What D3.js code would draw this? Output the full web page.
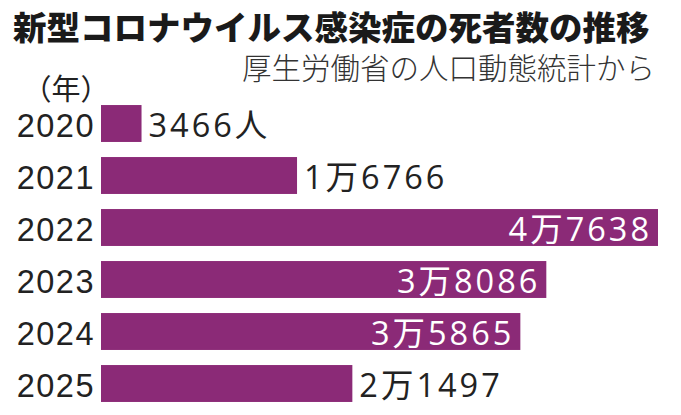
<!DOCTYPE html>
<html>
<head>
<meta charset="utf-8">
<script src="https://cdn.jsdelivr.net/npm/d3@7"></script>
<style>
  body { margin: 0; background: #fff; }
  svg { display: block; }
</style>
</head>
<body>
<div id="graph"></div>
<script>
// chart values
var years  = ["2020", "2021", "2022", "2023", "2024", "2025"];
var deaths = [3466, 16766, 47638, 38086, 35865, 21497];
var labels = ["3466人", "1万6766", "4万7638", "3万8086", "3万5865", "2万1497"];
var title    = "新型コロナウイルス感染症の死者数の推移";
var subtitle = "厚生労働省の人口動態統計から";
var unit     = "（年）";

var W = 681, H = 415;
var purple = "#8b2a77";

var svg = d3.select("#graph").append("svg")
    .attr("width", W)
    .attr("height", H);

var x = d3.scaleLinear()
    .domain([0, d3.max(deaths)])
    .range([101, 658]);

var y = d3.scaleBand()
    .domain(years)
    .range([97.5, 409.5])
    .paddingInner(0.29)
    .paddingOuter(0.145);

var rows = years.map(function(yr, i) {
    return {year: yr, value: deaths[i], label: labels[i]};
});

// title + source
svg.append("text")
    .attr("x", 13)
    .attr("y", 40)
    .attr("font-family", "'Noto Sans CJK JP'")
    .attr("font-weight", 900)
    .attr("font-size", 33.5)
    .attr("fill", "#1a1a1a")
    .text(title);

svg.append("text")
    .attr("x", 655)
    .attr("y", 79)
    .attr("text-anchor", "end")
    .attr("font-family", "'Noto Sans CJK JP'")
    .attr("font-weight", 300)
    .attr("font-size", 29.5)
    .attr("fill", "#333")
    .text(subtitle);

svg.append("text")
    .attr("x", 66)
    .attr("y", 100)
    .attr("text-anchor", "middle")
    .attr("font-family", "'Noto Sans CJK JP'")
    .attr("font-size", 29)
    .attr("fill", "#222")
    .text(unit);

// year axis
var yAxis = svg.append("g")
    .attr("class", "yAxis")
    .attr("transform", "translate(95,0)")
    .call(d3.axisLeft(y).tickSize(0).tickPadding(0));
yAxis.select(".domain").remove();
yAxis.selectAll("text")
    .attr("x", 0)
    .attr("dy", null)
    .attr("y", y.bandwidth() / 2 - 5)
    .attr("font-family", "'Liberation Sans', Arial, sans-serif")
    .attr("font-size", 32.5)
    .attr("letter-spacing", 1.5)
    .attr("fill", "#222");

// bars
svg.append("g").selectAll("rect")
    .data(rows)
    .enter().append("rect")
    .attr("x", x(0))
    .attr("y", function(d) { return y(d.year); })
    .attr("width", function(d) { return x(d.value) - x(0); })
    .attr("height", y.bandwidth())
    .attr("fill", purple);

// value labels: inside (white) for long bars, outside (black) otherwise
function inside(d) { return d.value > 30000; }

svg.append("g").selectAll("text")
    .data(rows)
    .enter().append("text")
    .attr("x", function(d) { return inside(d) ? x(d.value) - 6 : x(d.value) + 7; })
    .attr("y", function(d) { return y(d.year) + y.bandwidth() - 5; })
    .attr("text-anchor", function(d) { return inside(d) ? "end" : "start"; })
    .attr("font-family", "'Open Sans', 'Noto Sans CJK JP', sans-serif")
    .attr("font-size", 32.5)
    .attr("letter-spacing", 3)
    .attr("fill", function(d) { return inside(d) ? "#fff" : "#222"; })
    .text(function(d) { return d.label; });
</script>
</body>
</html>
